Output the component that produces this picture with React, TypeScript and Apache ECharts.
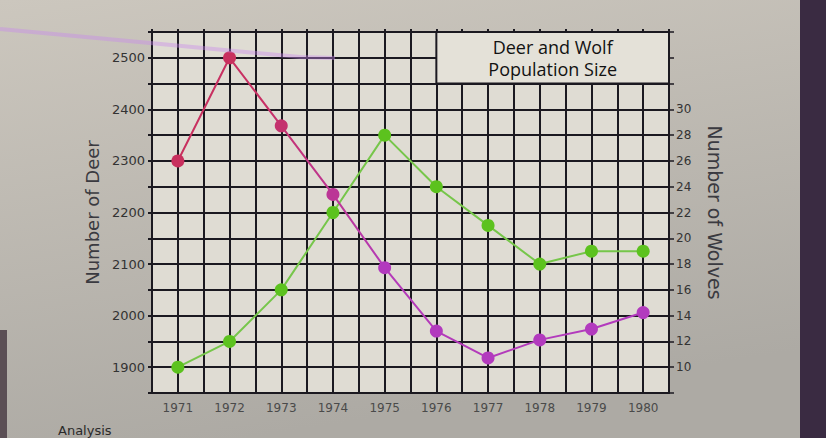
import React, { useEffect, useRef } from "react";
import * as echarts from "echarts";

const years = [1971, 1972, 1973, 1974, 1975, 1976, 1977, 1978, 1979, 1980];
const deer = [2300, 2500, 2368, 2235, 2093, 1970, 1918, 1953, 1974, 2006];
const wolves = [10, 12, 16, 22, 28, 24, 21, 18, 19, 19];
const deerLabels = [1900, 2000, 2100, 2200, 2300, 2400, 2500];
const wolfLabels = [10, 12, 14, 16, 18, 20, 22, 24, 26, 28, 30];
const titleLines = ["Deer and Wolf", "Population Size"];
const deerName = "Number of Deer";
const wolfName = "Number of Wolves";

const GRID = "#1b1920";
const FONT = "DejaVu Sans";

function mix(a: number[], b: number[], t: number) {
  const c = a.map((v, i) => Math.round(v + (b[i] - v) * t));
  return `rgb(${c[0]},${c[1]},${c[2]})`;
}

export default function App() {
  const ref = useRef<HTMLDivElement>(null);
  useEffect(() => {
    if (!ref.current) return;
    const chart = echarts.init(ref.current, null, { renderer: "svg" });
    const deerData = years.map((y, i) => [y, deer[i]]);
    const wolfData = years.map((y, i) => [y, wolves[i]]);
    const crimson = [200, 48, 94];
    const magenta = [178, 58, 190];
    const deerColor = (p: any) => {
      const yr = p.value[0];
      const t = Math.min(1, Math.max(0, (yr - 1972.6) / 2.4));
      return mix(crimson, magenta, t);
    };
    const xBase = {
      type: "value",
      min: 1970.5,
      max: 1980.5,
      interval: 0.5,
    };
    chart.setOption({
      animation: false,
      backgroundColor: new echarts.graphic.LinearGradient(0, 0, 0.3, 1, [
        { offset: 0, color: "#ccc7be" },
        { offset: 1, color: "#adaaa4" },
      ]),
      grid: {
        left: 152,
        right: 157,
        top: 32,
        bottom: 45,
        show: true,
        backgroundColor: "#dfdcd3",
        borderWidth: 0,
      },
      graphic: [
        {
          type: "rect",
          left: 800,
          top: 0,
          shape: { width: 26, height: 438 },
          style: { fill: "#3a2b42" },
          silent: true,
        },
        {
          type: "rect",
          left: 0,
          top: 330,
          shape: { width: 7, height: 108 },
          style: { fill: "#5b4f55" },
          silent: true,
        },
        {
          type: "polyline",
          shape: {
            points: [
              [0, 29],
              [150, 43],
              [300, 57],
              [335, 58],
            ],
          },
          style: { stroke: "rgba(200,135,238,0.4)", lineWidth: 4 },
          z: 100,
          silent: true,
        },
        {
          type: "text",
          left: 58,
          top: 424,
          style: { text: "Analysis", font: `13px ${FONT}`, fill: "#2a2a2a" },
        },
      ],
      xAxis: [
        {
          ...xBase,
          position: "bottom",
          axisLine: { show: true, lineStyle: { color: GRID, width: 2 } },
          axisTick: { show: false },
          splitLine: { show: true, lineStyle: { color: GRID, width: 2 } },
          axisLabel: {
            margin: 9,
            fontFamily: FONT,
            fontSize: 12,
            color: "#4a4a4a",
            formatter: (v: number) => (years.includes(v) ? String(v) : ""),
          },
        },
        {
          ...xBase,
          position: "top",
          axisLine: { show: true, lineStyle: { color: GRID, width: 2 } },
          axisTick: { show: true, length: 3, lineStyle: { color: GRID, width: 2 } },
          splitLine: { show: false },
          axisLabel: { show: false },
        },
      ],
      yAxis: [
        {
          type: "value",
          min: 1850,
          max: 2550,
          interval: 50,
          position: "left",
          name: deerName,
          nameLocation: "middle",
          nameGap: 50,
          nameTextStyle: { fontFamily: FONT, fontSize: 18, color: "#3a3a40" },
          axisLine: { show: true, lineStyle: { color: GRID, width: 2 } },
          axisTick: { show: true, length: 4, lineStyle: { color: GRID, width: 2 } },
          splitLine: { show: true, lineStyle: { color: GRID, width: 2 } },
          axisLabel: {
            margin: 7,
            fontFamily: FONT,
            fontSize: 13,
            color: "#333",
            formatter: (v: number) => (deerLabels.includes(v) ? String(v) : ""),
          },
        },
        {
          type: "value",
          min: 8,
          max: 36,
          interval: 2,
          position: "right",
          name: wolfName,
          nameLocation: "middle",
          nameRotate: -90,
          nameGap: 36,
          nameTextStyle: { fontFamily: FONT, fontSize: 19, color: "#3a3a40" },
          axisLine: { show: true, lineStyle: { color: GRID, width: 2 } },
          axisTick: { show: true, length: 5, lineStyle: { color: GRID, width: 1.5 } },
          splitLine: { show: false },
          axisLabel: {
            margin: 7,
            fontFamily: FONT,
            fontSize: 12,
            color: "#333",
            formatter: (v: number) => (wolfLabels.includes(v) ? String(v) : ""),
          },
        },
      ],
      series: [
        {
          name: "Wolves",
          type: "line",
          yAxisIndex: 1,
          data: wolfData,
          symbol: "circle",
          symbolSize: 13,
          lineStyle: { color: "#76c64a", width: 2 },
          itemStyle: { color: "#5cc21e" },
          z: 3,
        },
        {
          name: "Deer",
          type: "line",
          yAxisIndex: 0,
          data: deerData,
          symbol: "circle",
          symbolSize: 13,
          lineStyle: {
            width: 2,
            color: new echarts.graphic.LinearGradient(0, 0, 1, 0, [
              { offset: 0, color: "rgb(200,48,94)" },
              { offset: 0.18, color: "rgb(200,48,100)" },
              { offset: 0.45, color: "rgb(180,58,185)" },
              { offset: 1, color: "rgb(178,58,190)" },
            ]),
          },
          itemStyle: { color: deerColor },
          z: 4,
          markArea: {
            silent: true,
            itemStyle: {
              color: "#e4e1d8",
              borderColor: GRID,
              borderWidth: 2,
            },
            label: {
              show: true,
              position: "inside",
              fontFamily: "Open Sans",
              fontSize: 18,
              lineHeight: 22,
              color: "#121212",
              align: "center",
              verticalAlign: "middle",
            },
            data: [
              [
                { name: titleLines.join("\n"), xAxis: 1976, yAxis: 2450 },
                { xAxis: 1980.5, yAxis: 2550 },
              ],
            ],
          },
        },
      ],
    });
    return () => chart.dispose();
  }, []);
  return (
    <div
      ref={ref}
      style={{ position: "fixed", left: 0, top: 0, width: 826, height: 438 }}
    />
  );
}
